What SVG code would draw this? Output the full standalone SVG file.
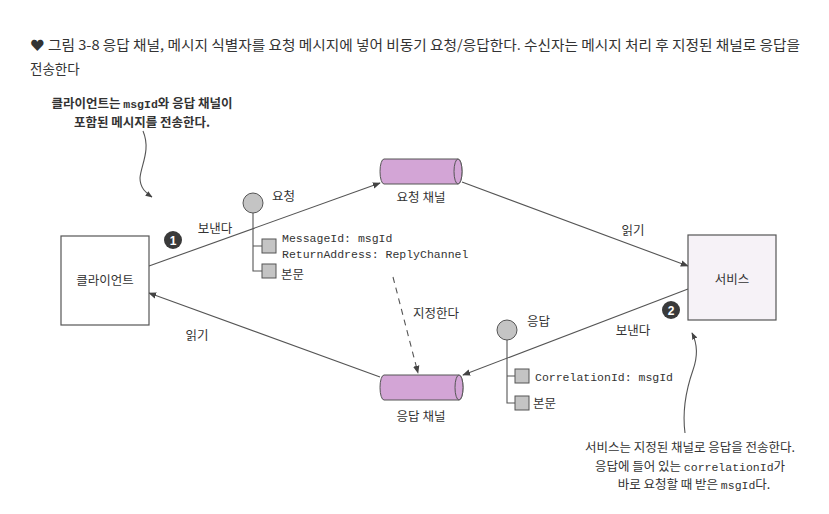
<svg xmlns="http://www.w3.org/2000/svg" width="829" height="514" viewBox="0 0 829 514">
<defs>
<marker id="ah" viewBox="0 0 10 10" refX="9" refY="5" markerWidth="8" markerHeight="8" markerUnits="userSpaceOnUse" orient="auto">
<path d="M0,1 L10,5 L0,9 Z" fill="#444"/>
</marker>
<marker id="ahs" viewBox="0 0 10 10" refX="9" refY="5" markerWidth="7" markerHeight="7" markerUnits="userSpaceOnUse" orient="auto">
<path d="M0,1 L10,5 L0,9 Z" fill="#444"/>
</marker>
</defs>
<style>
.ko{font-family:"Noto Sans CJK KR","Noto Sans",sans-serif;fill:#333;}
.mono{font-family:"Liberation Mono","DejaVu Sans Mono","Noto Sans CJK KR",monospace;fill:#333;}
.box{fill:#fff;stroke:#555;stroke-width:1.2;}
.cyl{fill:#d3a5d6;stroke:#555;stroke-width:1;}
.ln{fill:none;stroke:#555;stroke-width:1.1;}
.dot{fill:#c4c4c4;stroke:#555;stroke-width:1;}
.sq{fill:#c4c4c4;stroke:#555;stroke-width:1;}
.badge{fill:#3a3a3a;}
.bt{font-family:"Liberation Sans","Noto Sans",sans-serif;font-weight:bold;font-size:12px;fill:#fff;}
</style>
<rect width="829" height="514" fill="#fff"/>

<g id="title">
<text class="ko" x="30" y="50" font-size="13.5" textLength="770" lengthAdjust="spacingAndGlyphs">♥ 그림 3-8 응답 채널, 메시지 식별자를 요청 메시지에 넣어 비동기 요청/응답한다. 수신자는 메시지 처리 후 지정된 채널로 응답을</text>
<text class="ko" x="30" y="74" font-size="13.5">전송한다</text>
</g>

<g id="connectors">
<line class="ln" x1="149" y1="266" x2="380" y2="183" marker-end="url(#ah)"/>
<line class="ln" x1="462" y1="182" x2="688" y2="266" marker-end="url(#ah)"/>
<line class="ln" x1="688" y1="289" x2="463" y2="375" marker-end="url(#ah)"/>
<line class="ln" x1="380" y1="377" x2="149" y2="293" marker-end="url(#ah)"/>
<line class="ln" x1="393" y1="277" x2="418" y2="373" stroke-dasharray="6,5" marker-end="url(#ah)"/>
<path class="ln" d="M143,131 C151,150 141,165 140,178 C140,188 146,193 152,197" stroke-width="0.9" marker-end="url(#ahs)"/>
<path class="ln" d="M685,433 C682,410 686,390 693,370 C698,356 698,345 692,333" stroke-width="0.9" marker-end="url(#ahs)"/>
<text class="ko" x="215" y="233" font-size="12.5" text-anchor="middle">보낸다</text>
<text class="ko" x="633" y="235" font-size="12.5" text-anchor="middle">읽기</text>
<text class="ko" x="633" y="335" font-size="12.5" text-anchor="middle">보낸다</text>
<text class="ko" x="197" y="340" font-size="12.5" text-anchor="middle">읽기</text>
<text class="ko" x="436" y="318" font-size="12.5" text-anchor="middle">지정한다</text>
</g>

<g id="client">
<rect class="box" x="61" y="236" width="88" height="89"/>
<text class="ko" x="105" y="285" font-size="12.5" text-anchor="middle">클라이언트</text>
</g>

<g id="service">
<rect class="box" x="688" y="235" width="88" height="85" style="fill:#f6f2f7"/>
<text class="ko" x="732" y="284" font-size="12.5" text-anchor="middle">서비스</text>
</g>

<g id="request-channel">
<path class="cyl" d="M384,159 H458 A4,12.5 0 0 1 458,184 H384 A4,12.5 0 0 1 384,159 Z"/>
<ellipse class="cyl" cx="458" cy="171.5" rx="4" ry="12.5"/>
<text class="ko" x="421" y="202" font-size="12.5" text-anchor="middle">요청 채널</text>
</g>

<g id="reply-channel">
<path class="cyl" d="M384,375 H459 A4,12.5 0 0 1 459,400 H384 A4,12.5 0 0 1 384,375 Z"/>
<ellipse class="cyl" cx="459" cy="387.5" rx="4" ry="12.5"/>
<text class="ko" x="421" y="421" font-size="12.5" text-anchor="middle">응답 채널</text>
</g>

<g id="request-message">
<path class="ln" d="M253,213 V271 H262 M253,246 H262"/>
<circle class="dot" cx="253" cy="203" r="10"/>
<rect class="sq" x="262" y="239" width="14" height="14"/>
<rect class="sq" x="262" y="264" width="14" height="14"/>
<text class="ko" x="272" y="201" font-size="12.5">요청</text>
<text class="mono" x="282" y="242" font-size="11.5">MessageId: msgId</text>
<text class="mono" x="282" y="258" font-size="11.5">ReturnAddress: ReplyChannel</text>
<text class="ko" x="281" y="279" font-size="12.5">본문</text>
</g>

<g id="reply-message">
<path class="ln" d="M507,340 V403 H515 M507,376 H515"/>
<circle class="dot" cx="507" cy="330" r="10"/>
<rect class="sq" x="515" y="369" width="14" height="14"/>
<rect class="sq" x="515" y="396" width="14" height="14"/>
<text class="ko" x="527" y="326" font-size="12.5">응답</text>
<text class="mono" x="535" y="381" font-size="11.5">CorrelationId: msgId</text>
<text class="ko" x="533" y="408" font-size="12.5">본문</text>
</g>

<g id="badge-1">
<circle class="badge" cx="173" cy="240" r="9"/>
<text class="bt" x="173" y="244.5" text-anchor="middle">1</text>
</g>
<g id="badge-2">
<circle class="badge" cx="671" cy="310" r="9"/>
<text class="bt" x="671" y="314.5" text-anchor="middle">2</text>
</g>

<g id="note-client">
<text class="ko" x="142" y="108" font-size="12.5" font-weight="bold" text-anchor="middle">클라이언트는 <tspan class="mono" font-size="11.5">msgId</tspan>와 응답 채널이</text>
<text class="ko" x="142" y="127" font-size="12.5" font-weight="bold" text-anchor="middle">포함된 메시지를 전송한다.</text>
</g>

<g id="note-service">
<text class="ko" x="690" y="452" font-size="12.5" text-anchor="middle">서비스는 지정된 채널로 응답을 전송한다.</text>
<text class="ko" x="690" y="471" font-size="12.5" text-anchor="middle">응답에 들어 있는 <tspan class="mono" font-size="11.5">correlationId</tspan>가</text>
<text class="ko" x="694" y="489" font-size="12.5" text-anchor="middle">바로 요청할 때 받은 <tspan class="mono" font-size="11.5">msgId</tspan>다.</text>
</g>
</svg>
